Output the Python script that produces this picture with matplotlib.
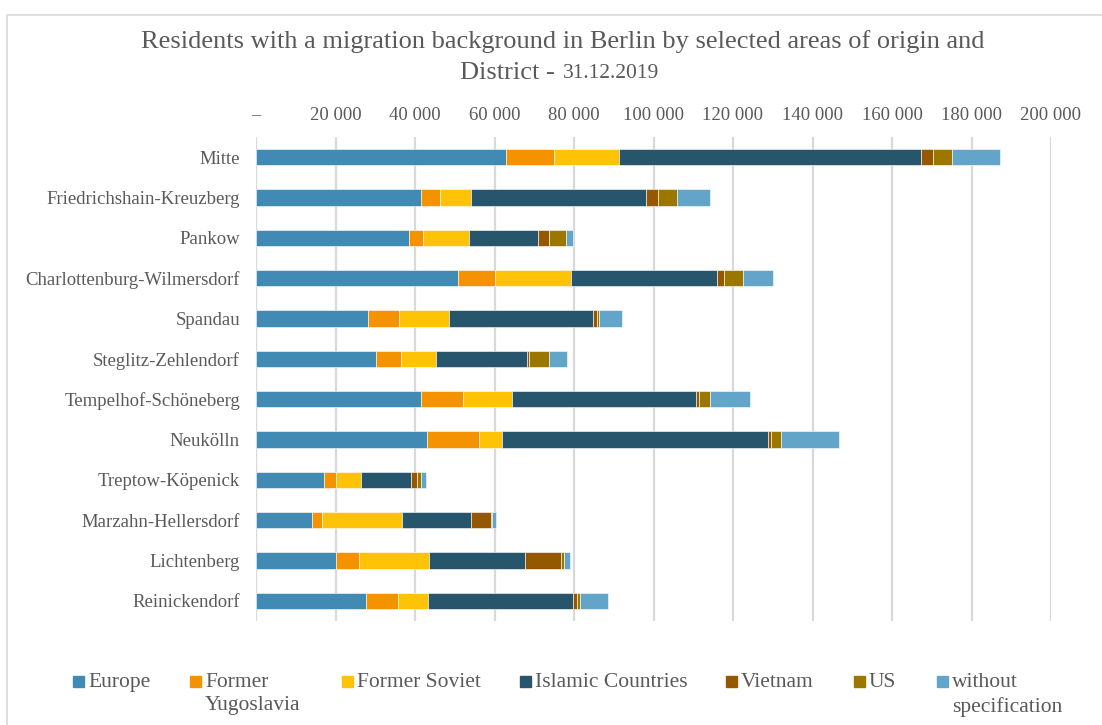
"""Stacked horizontal bars: residents with a migration background in Berlin by district."""

import matplotlib.pyplot as plt
import numpy as np
from matplotlib.patches import Rectangle
from matplotlib.ticker import FuncFormatter

# ==============================================================================
# DATA
# ==============================================================================

DISTRICTS = [
    "Mitte", "Friedrichshain-Kreuzberg", "Pankow", "Charlottenburg-Wilmersdorf",
    "Spandau", "Steglitz-Zehlendorf", "Tempelhof-Schöneberg", "Neukölln",
    "Treptow-Köpenick", "Marzahn-Hellersdorf", "Lichtenberg", "Reinickendorf",
]

EUROPE = [62800, 41400, 38600, 50700, 28100, 30300, 41500, 43100, 17000, 14100, 20000, 27600]
FORMER_YUGOSLAVIA = [12200, 5000, 3300, 9300, 8000, 6300, 10500, 12900, 3000, 2500, 6000, 8000]
FORMER_SOVIET = [16300, 7600, 11800, 19200, 12400, 8800, 12300, 5900, 6500, 20200, 17600, 7700]
ISLAMIC = [76100, 44200, 17300, 36700, 36400, 22700, 46300, 66800, 12600, 17200, 24000, 36500]
VIETNAM = [2800, 3000, 2600, 1800, 1000, 700, 800, 900, 1500, 5000, 9200, 1000]
US = [5000, 4800, 4300, 4900, 500, 4800, 2900, 2600, 800, 300, 800, 800]
WITHOUT_SPEC = [12000, 8300, 1800, 7400, 5800, 4600, 10000, 14500, 1400, 1000, 1500, 6900]

SERIES_NAMES = ["Europe", "Former\nYugoslavia", "Former Soviet", "Islamic Countries",
                "Vietnam", "US", "without\nspecification"]
SERIES_VALUES = [EUROPE, FORMER_YUGOSLAVIA, FORMER_SOVIET, ISLAMIC, VIETNAM, US, WITHOUT_SPEC]

X_TICKS = [0, 20000, 40000, 60000, 80000, 100000, 120000, 140000, 160000, 180000, 200000]

# ==============================================================================
# STYLE
# ==============================================================================

COLORS = ["#418AB3", "#F59200", "#FEC306", "#27556C", "#955800", "#9C7700", "#63A5C8"]
TEXT_GRAY = "#595959"
GRID_GRAY = "#D9D9D9"
FONT = ["Liberation Serif", "DejaVu Serif"]

# legend marker x positions (pixels) along the bottom
LEGEND_X = [73, 190, 342, 520, 726, 854, 937]

plt.rcParams.update({
    "font.family": FONT,
    "text.color": TEXT_GRAY,
})


def thousands(v, _pos):
    if v == 0:
        return "–"
    return f"{int(v):,}".replace(",", " ")


def main() -> None:
    W, H = 1102, 725
    fig = plt.figure(figsize=(W / 100, H / 100), dpi=100)
    ax = fig.add_axes([256 / W, 1 - 621 / H, 795 / W, 484 / H])

    y = np.arange(len(DISTRICTS))
    left = np.zeros(len(DISTRICTS))
    for vals, color, name in zip(SERIES_VALUES, COLORS, SERIES_NAMES):
        vals = np.array(vals, dtype=float)
        ax.barh(y, vals, left=left, height=0.4, color=color,
                edgecolor="white", linewidth=0.4, label=name, zorder=3)
        left += vals

    ax.set_xlim(0, 200000)
    ax.set_ylim(len(DISTRICTS) - 0.5, -0.5)
    ax.set_xticks(X_TICKS)
    ax.xaxis.set_major_formatter(FuncFormatter(thousands))
    ax.xaxis.tick_top()
    ax.set_yticks(y)
    ax.set_yticklabels(DISTRICTS)
    ax.tick_params(axis="both", length=0, labelsize=13.5, colors=TEXT_GRAY)
    ax.tick_params(axis="x", pad=9)
    ax.tick_params(axis="y", pad=11.5)
    ax.grid(True, axis="x", color=GRID_GRAY, linewidth=1.6, zorder=0)
    for s in ax.spines.values():
        s.set_visible(False)

    # title
    fig.text(563 / W, 1 - 42 / H,
             "Residents with a migration background in Berlin by selected areas of origin and",
             ha="center", va="center", fontsize=19, color=TEXT_GRAY)
    fig.text(561 / W, 1 - 73 / H, "District - ", ha="right", va="center",
             fontsize=19, color=TEXT_GRAY)
    fig.text(563 / W, 1 - 74 / H, "31.12.2019", ha="left", va="center",
             fontsize=15.5, color=TEXT_GRAY)

    # legend
    for xp, name, color in zip(LEGEND_X, SERIES_NAMES, COLORS):
        fig.patches.append(Rectangle((xp / W, 1 - 687 / H), 11 / W, 11 / H,
                                     transform=fig.transFigure, color=color))
        fig.text((xp + 15) / W, 1 - 673 / H, name, ha="left", va="top",
                 fontsize=15.5, color=TEXT_GRAY, linespacing=1.32,
                 multialignment="left")

    # chart-area border
    fig.patches.append(Rectangle((7 / W, -0.05), 1.1, 1 - 15 / H + 0.05,
                                 transform=fig.transFigure, fill=False,
                                 edgecolor=GRID_GRAY, linewidth=1.2))

    fig.savefig("out.png", dpi=100)
    plt.close(fig)


if __name__ == "__main__":
    main()
